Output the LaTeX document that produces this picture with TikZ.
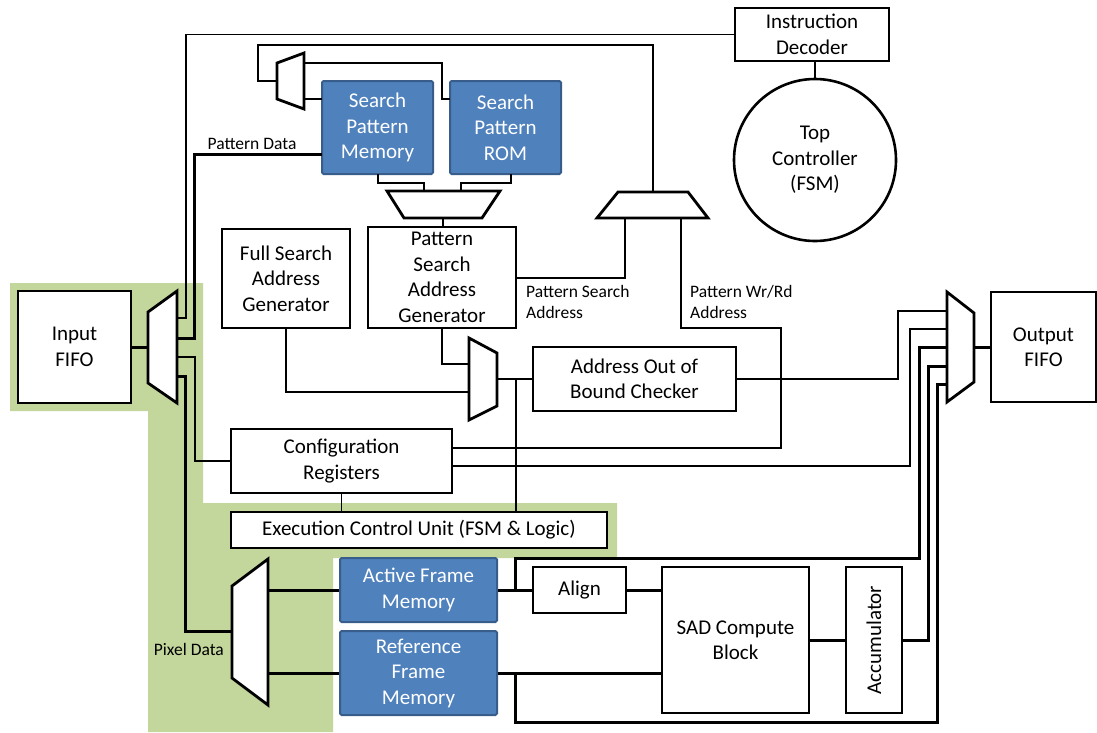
\documentclass[tikz,border=0pt]{standalone}
\usepackage{fontspec}
\usepackage{graphicx}
\setmainfont{Carlito}
\definecolor{bg}{RGB}{195,214,155}
\definecolor{bfill}{RGB}{79,129,189}
\definecolor{bdraw}{RGB}{56,93,138}
\begin{document}
\begin{tikzpicture}[x=1pt,y=-1pt,
  box/.style={draw, line width=2.6pt, fill=white, inner sep=0pt, align=center,
    font=\fontsize{21}{25.5}\selectfont},
  bbox/.style={draw=bdraw, line width=2pt, fill=bfill, rounded corners=1.5pt, inner sep=0pt,
    align=center, text=white, font=\fontsize{21}{25.5}\selectfont},
  mux/.style={draw, line width=2.8pt, fill=white, line join=miter},
  thk/.style={line width=3pt},
  thn/.style={line width=1.2pt},
  lbl/.style={inner sep=0pt, align=left, font=\fontsize{17.5}{21.5}\selectfont}]
\useasboundingbox (0,0) rectangle (1097,732);
% green regions
\fill[bg] (10,283) -- (203,283) -- (203,503) -- (617,503) -- (617,558) -- (333,558)
  -- (333,732) -- (148,732) -- (148,411) -- (10,411) -- cycle;

% boxes
\node[box, minimum width=113, minimum height=112] (infifo) at (74.5,347) {Input\\FIFO};
\node[box, minimum width=105, minimum height=110] (outfifo) at (1043.5,347) {Output\\FIFO};
\node[box, minimum width=154, minimum height=53] (idec) at (812,34.5) {Instruction\\Decoder};
\node[draw, circle, line width=2.6pt, minimum size=162, inner sep=0pt, align=center,
  font=\fontsize{21}{25.5}\selectfont] (topctl) at (815,160) {Top\\Controller\\(FSM)};
\node[bbox, minimum width=111, minimum height=93] (spm) at (377.5,127.5) {Search\\Pattern\\Memory};
\node[bbox, minimum width=111, minimum height=93] (rom) at (505.5,127.5) {Search\\Pattern\\ROM};
\node[box, minimum width=128, minimum height=99] (fsag) at (286,278.5) {Full Search\\Address\\Generator};
\node[box, minimum width=148, minimum height=101] (psag) at (442,277.5) {Pattern\\Search\\Address\\Generator};
\node[box, minimum width=203, minimum height=64] (aobc) at (634.5,379) {Address Out of\\Bound Checker};
\node[box, minimum width=221, minimum height=64] (cfg) at (341.5,461) {Configuration\\Registers};
\node[box, minimum width=376, minimum height=36] (ecu) at (419,530) {Execution Control Unit (FSM \& Logic)};
\node[bbox, minimum width=157, minimum height=64] (afm) at (418.5,590) {Active Frame\\Memory};
\node[bbox, minimum width=157, minimum height=84] (rfm) at (418.5,673) {Reference\\Frame\\Memory};
\node[box, minimum width=93, minimum height=46] (align) at (579.5,590) {Align};
\node[box, minimum width=147, minimum height=146] (sad) at (735.5,640) {SAD Compute\\Block};
\node[box, minimum width=56, minimum height=146] (acc) at (874,640) {\rotatebox{90}{Accumulator}};

% muxes
\draw[mux] (148,312) coordinate (inmuxA) -- (177,291) -- (177,403) -- (148,383) -- cycle;
\draw[mux] (232,586) -- (268,559) -- (268,705) -- (232,678) -- cycle;
\draw[mux] (277,63) -- (304,53) -- (304,109) -- (277,99) -- cycle;
\draw[mux] (387,191) -- (500,191) -- (482,218) -- (404,218) -- cycle;
\draw[mux] (597,218) -- (618,192) -- (688,192) -- (708,218) -- cycle;
\draw[mux] (469,338) -- (497,353) -- (497,406) -- (469,420) -- cycle;
\draw[mux] (947,292) -- (974,313) -- (974,382) -- (947,402) -- cycle;

% mux pin coordinates
\coordinate (inL) at (148,347);
\coordinate (inR1) at (177,318);
\coordinate (inR2) at (177,338);
\coordinate (inR3) at (177,357);
\coordinate (inR4) at (177,376);
\coordinate (pixL) at (232,631);
\coordinate (pixR1) at (268,590);
\coordinate (pixR2) at (268,673);
\coordinate (tlL) at (277,81);
\coordinate (tlR1) at (304,63);
\coordinate (tlR2) at (304,99);
\coordinate (patT1) at (424,191);
\coordinate (patT2) at (461,191);
\coordinate (patB) at (443,218);
\coordinate (topT) at (653,192);
\coordinate (topB1) at (625,218);
\coordinate (topB2) at (681,218);
\coordinate (adL1) at (469,364);
\coordinate (adL2) at (469,392);
\coordinate (adR) at (497,379);
\coordinate (oL1) at (947,311);
\coordinate (oL2) at (947,329);
\coordinate (oL3) at (947,347);
\coordinate (oL4) at (947,366);
\coordinate (oL5) at (947,384);
\coordinate (oR) at (974,347);
\coordinate (jA) at (515,590);
\coordinate (jR) at (515,673);
\coordinate (jB) at (516,379);

% thick wires
\draw[thk] (infifo.east) -- (inL);
\draw[thk] (oR) -- (outfifo.west);
\draw[thk] (322,154) -- (194,154) -- (194,338) -- (inR2);
\draw[thk] (inR4) -- (185,376) -- (185,631) -- (pixL);
\draw[thk] (pixR1) -- (afm.west);
\draw[thk] (pixR2) -- (rfm.west);
\draw[thk] (afm.east) -- (align.west);
\draw[thk] (align.east) -- (align.east -| sad.west);
\draw[thk] (rfm.east) -- (rfm.east -| sad.west);
\draw[thk] (sad.east) -- (acc.west);
\draw[thk] (acc.east) -- (928,640) -- (928,366) -- (oL4);
\draw[thk] (jA) -- (515,558) -- (919,558) -- (919,347) -- (oL3);
\draw[thk] (jR) -- (515,722) -- (937,722) -- (937,384) -- (oL5);

% thin wires
\draw[thn] (inR1) -- (186,318) -- (186,34.5) -- (idec.west);
\draw[thn] (inR3) -- (195,357) -- (195,461) -- (cfg.west);
\draw[thn] (tlR2) -- (322,99);
\draw[thn] (tlR1) -- (442,63) -- (442,99) -- (450,99);
\draw[thn] (tlL) -- (258,81) -- (258,45) -- (653,45) -- (topT);
\draw[thn] (378,174) -- (378,183) -- (424,183) -- (patT1);
\draw[thn] (511,174) -- (511,183) -- (461,183) -- (patT2);
\draw[thn] (patB) -- (psag.north -| patB);
\draw[thn] (topB1) -- (625,278) -- (516,278);
\draw[thn] (topB2) -- (681,328) -- (781,328) -- (781,448) -- (452,448);
\draw[thn] (442,328) -- (442,364) -- (adL1);
\draw[thn] (fsag.south) -- (286,392) -- (adL2);
\draw[thn] (adR) -- (aobc.west);
\draw[thn] (jB) -- (jB |- ecu.north);
\draw[thn] (cfg.south) -- (ecu.north -| cfg.south);
\draw[thn] (aobc.east) -- (898,379) -- (898,311) -- (oL1);
\draw[thn] (452,466) -- (910,466) -- (910,329) -- (oL2);
\draw[thn] (idec.south -| topctl.north) -- (topctl.north);

% labels
\node[lbl] (lpd) at (252,144) {Pattern Data};
\node[lbl, anchor=west] (lpsa) at (526,302) {Pattern Search\\Address};
\node[lbl, anchor=west] (lpwr) at (690,302) {Pattern Wr/Rd\\Address};
\node[lbl, anchor=east] (lpix) at (224,649) {Pixel Data};
\end{tikzpicture}
\end{document}
